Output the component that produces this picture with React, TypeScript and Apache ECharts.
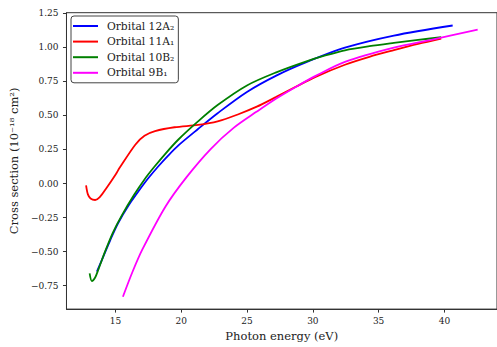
import React, { useEffect, useRef } from "react";
import * as echarts from "echarts";

const seriesNames = ["Orbital 12A₂", "Orbital 11A₁", "Orbital 10B₂", "Orbital 9B₁"];
const seriesColors = ["#0000ff", "#ff0000", "#008000", "#ff00ff"];

const blueX = [13.58, 14.1, 14.6, 15.2, 16.0, 16.8, 17.5, 18.24, 19.0, 19.78, 21.27, 22.76, 24.99, 27.22, 29.46, 32.44, 36.16, 40.63];
const blueY = [-0.646, -0.53, -0.415, -0.29, -0.16, -0.05, 0.04, 0.125, 0.205, 0.28, 0.4, 0.516, 0.672, 0.792, 0.889, 0.997, 1.086, 1.16];

const redX = [12.76, 12.9, 13.1, 13.45, 13.8, 14.3, 15.02, 15.31, 16.5, 17.2, 18.0, 19.48, 21.27, 22.76, 24.25, 25.74, 27.22, 28.7, 30.21, 32.44, 34.3, 36.16, 38.0, 39.76];
const redY = [-0.013, -0.08, -0.11, -0.121, -0.1, -0.035, 0.068, 0.115, 0.285, 0.35, 0.384, 0.413, 0.43, 0.456, 0.505, 0.564, 0.636, 0.71, 0.783, 0.872, 0.93, 0.979, 1.025, 1.064];

const greenX = [13.03, 13.2, 13.45, 13.7, 14.2, 14.8, 15.5, 16.4, 17.2, 17.92, 18.8, 19.78, 21.27, 22.76, 24.99, 27.22, 29.46, 30.95, 32.44, 34.3, 36.16, 38.0, 39.76];
const greenY = [-0.66, -0.716, -0.69, -0.63, -0.5, -0.36, -0.23, -0.085, 0.03, 0.119, 0.22, 0.323, 0.456, 0.576, 0.72, 0.816, 0.895, 0.94, 0.978, 1.008, 1.032, 1.054, 1.074];

const magentaX = [15.56, 16.3, 17.05, 18.79, 20.4, 22.25, 24.0, 25.74, 27.22, 28.7, 30.21, 32.44, 36.16, 39.0, 42.53];
const magentaY = [-0.831, -0.646, -0.482, -0.17, 0.047, 0.255, 0.41, 0.528, 0.624, 0.709, 0.79, 0.893, 0.997, 1.055, 1.129];

const xTicks = [15, 20, 25, 30, 35, 40];
const yTicks = [-0.75, -0.5, -0.25, 0, 0.25, 0.5, 0.75, 1.0, 1.25];

const FONT = "'DejaVu Serif', serif";

function pairs(xs: number[], ys: number[]) {
  return xs.map((x, i) => [x, ys[i]]);
}

export default function App() {
  const ref = useRef<HTMLDivElement>(null);
  useEffect(() => {
    if (!ref.current) return;
    const chart = echarts.init(ref.current, undefined, { renderer: "svg" });
    const data = [
      pairs(blueX, blueY),
      pairs(redX, redY),
      pairs(greenX, greenY),
      pairs(magentaX, magentaY),
    ];
    chart.setOption({
      animation: false,
      backgroundColor: "#ffffff",
      textStyle: { fontFamily: FONT },
      grid: {
        left: 65.7,
        top: 12.7,
        width: 439.7,
        height: 301.6,
        show: true,
        borderColor: "#333",
        borderWidth: 1,
        backgroundColor: "transparent",
      },
      legend: {
        orient: "vertical",
        left: 71,
        top: 16,
        data: seriesNames,
        icon: "rect",
        itemWidth: 25,
        itemHeight: 2,
        itemGap: 2.6,
        padding: [3.5, 4, 3.5, 2],
        borderColor: "#444",
        borderWidth: 1,
        borderRadius: 3,
        backgroundColor: "#ffffff",
        textStyle: {
          fontFamily: FONT,
          fontSize: 10.7,
          color: "#222",
          lineHeight: 13,
          padding: [0, 0, 0, 4],
        },
      },
      xAxis: {
        type: "value",
        min: 11.27,
        max: 44.0,
        name: "Photon energy (eV)",
        nameLocation: "middle",
        nameGap: 20,
        nameTextStyle: { fontFamily: FONT, fontSize: 11.5, color: "#222" },
        axisLine: { show: true, onZero: false, lineStyle: { color: "#333", width: 1 } },
        axisTick: { show: true, length: 3.5, lineStyle: { color: "#333" }, customValues: xTicks },
        axisLabel: {
          fontFamily: FONT,
          fontSize: 9,
          color: "#222",
          margin: 7,
          customValues: xTicks,
        },
        splitLine: { show: false },
      },
      yAxis: {
        type: "value",
        min: -0.922,
        max: 1.254,
        name: "Cross section (10⁻¹⁸ cm²)",
        nameLocation: "middle",
        nameGap: 39,
        nameTextStyle: { fontFamily: FONT, fontSize: 11.5, color: "#222" },
        axisLine: { show: true, onZero: false, lineStyle: { color: "#333", width: 1 } },
        axisTick: { show: true, length: 3.5, lineStyle: { color: "#333" }, customValues: yTicks },
        axisLabel: {
          fontFamily: FONT,
          fontSize: 9,
          color: "#222",
          margin: 8,
          customValues: yTicks,
          formatter: (v: number) => (v < 0 ? "\u2212" + Math.abs(v).toFixed(2) : v.toFixed(2)),
        },
        splitLine: { show: false },
      },
      series: seriesNames.map((name, i) => ({
        name,
        type: "line",
        data: data[i],
        smooth: 0.3,
        symbol: "none",
        showSymbol: false,
        itemStyle: { color: seriesColors[i] },
        lineStyle: { color: seriesColors[i], width: 1.8 },
      })),
    });
    return () => chart.dispose();
  }, []);
  return (
    <div
      ref={ref}
      style={{ position: "fixed", left: 0, top: 0, width: 497, height: 347 }}
    />
  );
}
